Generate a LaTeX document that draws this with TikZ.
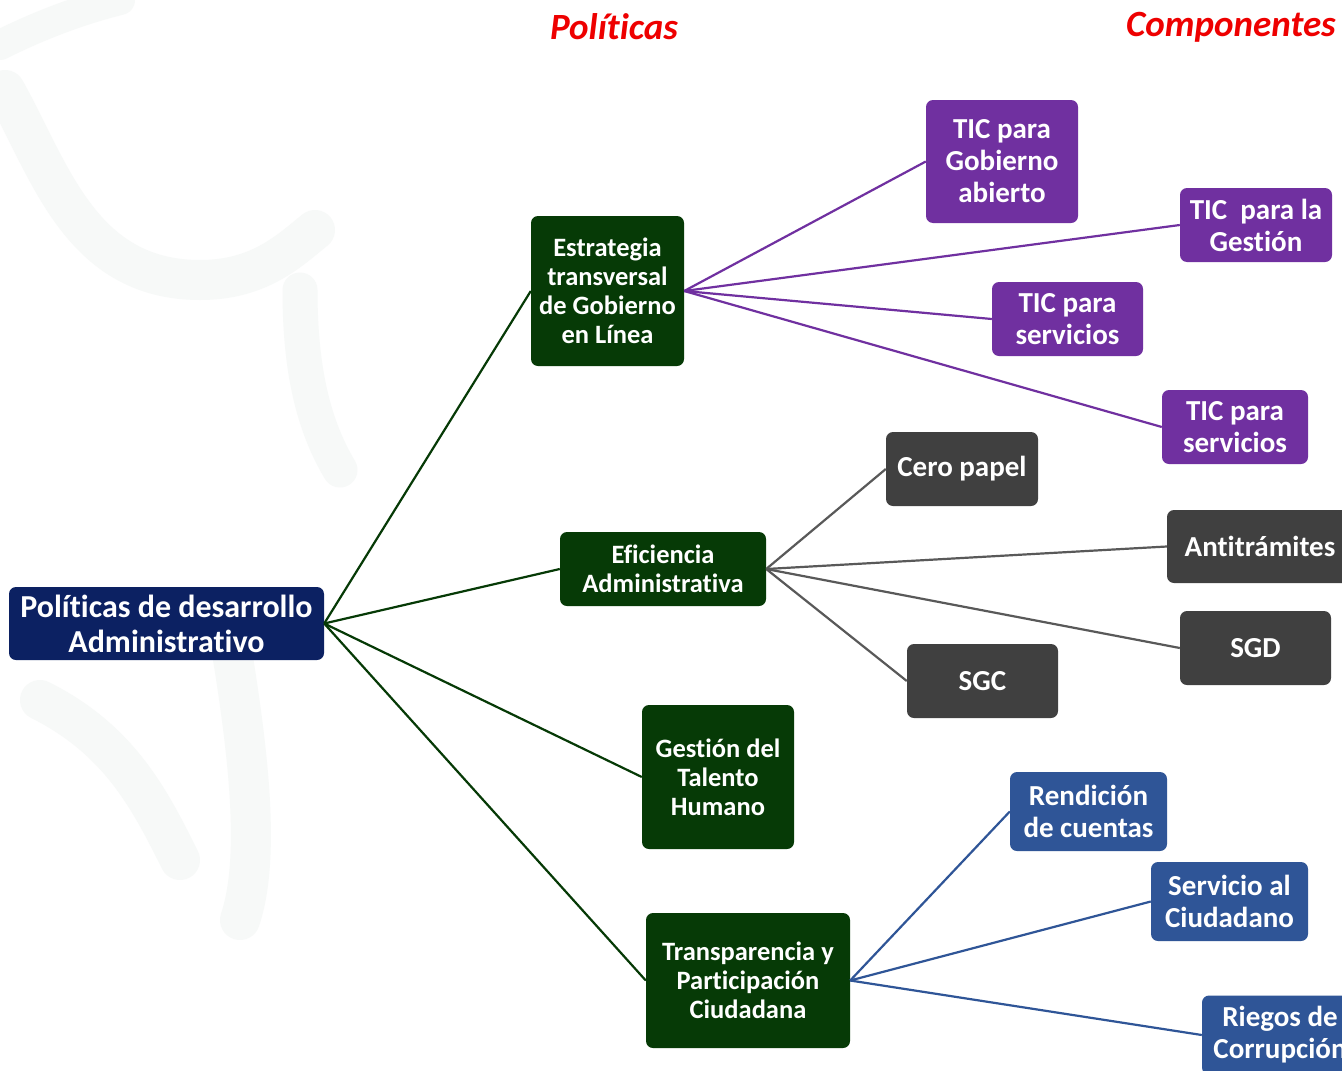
\documentclass[tikz,border=0pt]{standalone}
\usepackage{fontspec}
\setmainfont{Carlito}[Ligatures=NoCommon]
\definecolor{navy}{HTML}{0C2162}
\definecolor{dgreen}{HTML}{063A06}
\definecolor{purp}{HTML}{7030A0}
\definecolor{dgray}{HTML}{404040}
\definecolor{lgray}{HTML}{595959}
\definecolor{bblue}{HTML}{2F5597}
\definecolor{swirl}{HTML}{F7F9F8}
\definecolor{hred}{HTML}{EE0000}
\begin{document}
\begin{tikzpicture}[x=1pt,y=-1pt,
  box/.style={rounded corners=7, text=white, align=center, inner sep=0pt, font=\bfseries},
  rootbox/.style={box, fill=navy, font=\bfseries\fontsize{32}{35}\selectfont},
  polbox/.style={box, fill=dgreen, font=\bfseries\fontsize{26.5}{29}\selectfont},
  ticbox/.style={box, fill=purp, font=\bfseries\fontsize{29}{32}\selectfont},
  effbox/.style={box, fill=dgray, font=\bfseries\fontsize{29}{32}\selectfont},
  trbox/.style={box, fill=bblue, font=\bfseries\fontsize{29}{32}\selectfont},
  head/.style={text=hred, font=\bfseries\itshape\fontsize{37}{40}\selectfont, inner sep=0pt},
  gline/.style={draw=dgreen, line width=2.2pt},
  pline/.style={draw=purp, line width=2.2pt},
  kline/.style={draw=lgray, line width=2.2pt},
  bline/.style={draw=bblue, line width=2.2pt}]
\useasboundingbox (0,0) rectangle (1342,1071);
\clip (0,0) rectangle (1342,1071);
\fill[white] (0,0) rectangle (1342,1071);
% faint background swirls
\begin{scope}[draw=swirl, line cap=round]
\draw[line width=30] (0,45) .. controls (40,25) and (80,10) .. (120,0);
\draw[line width=40] (5,90) .. controls (50,170) and (80,280) .. (200,280) .. controls (260,280) and (290,250) .. (315,230);
\draw[line width=35] (300,290) .. controls (300,360) and (310,420) .. (340,470);
\draw[line width=40] (40,700) .. controls (120,740) and (150,800) .. (180,860);
\draw[line width=40] (230,640) .. controls (250,760) and (260,860) .. (240,920);
\end{scope}
% headers
\node[head] (hpol) at (614,27) {Políticas};
\node[head, anchor=east] (hcomp) at (1336,27) {Componentes};
% nodes
\node[rootbox, minimum width=315, minimum height=73] (root) at (166.5,623.5) {Políticas de desarrollo\\Administrativo};
\node[polbox, minimum width=153, minimum height=150] (estr) at (607.5,291) {Estrategia\\transversal\\de Gobierno\\en Línea};
\node[polbox, minimum width=206, minimum height=74] (efic) at (663,569) {Eficiencia\\Administrativa};
\node[polbox, minimum width=152, minimum height=144] (gest) at (718,777) {Gestión del\\Talento\\Humano};
\node[polbox, minimum width=204, minimum height=135] (trans) at (748,980.5) {Transparencia y\\Participación\\Ciudadana};
\node[ticbox, minimum width=152, minimum height=123] (tga) at (1002,161.5) {TIC para\\Gobierno\\abierto};
\node[ticbox, minimum width=152, minimum height=74] (tgest) at (1256,225) {TIC \ para la\\Gestión};
\node[ticbox, minimum width=151, minimum height=74] (ts1) at (1067.5,319) {TIC para\\servicios};
\node[ticbox, minimum width=146, minimum height=74] (ts2) at (1235,427) {TIC para\\servicios};
\node[effbox, minimum width=152, minimum height=74] (cero) at (962,469) {Cero papel};
\node[effbox, minimum width=186, minimum height=73] (anti) at (1260,546.5) {Antitrámites};
\node[effbox, minimum width=151, minimum height=74] (sgd) at (1255.5,648) {SGD};
\node[effbox, minimum width=151, minimum height=74] (sgc) at (982.5,681) {SGC};
\node[trbox, minimum width=157, minimum height=79] (rend) at (1088.5,811.5) {Rendición\\de cuentas};
\node[trbox, minimum width=157, minimum height=79] (serv) at (1229.5,901.5) {Servicio al\\Ciudadano};
\node[trbox, minimum width=156, minimum height=79] (rieg) at (1280,1035) {Riegos de\\Corrupción};
% connectors
\draw[gline] (root.east) -- (estr.west);
\draw[gline] (root.east) -- (efic.west);
\draw[gline] (root.east) -- (gest.west);
\draw[gline] (root.east) -- (trans.west);
\draw[pline] (estr.east) -- (tga.west);
\draw[pline] (estr.east) -- (tgest.west);
\draw[pline] (estr.east) -- (ts1.west);
\draw[pline] (estr.east) -- (ts2.west);
\draw[kline] (efic.east) -- (cero.west);
\draw[kline] (efic.east) -- (anti.west);
\draw[kline] (efic.east) -- (sgd.west);
\draw[kline] (efic.east) -- (sgc.west);
\draw[bline] (trans.east) -- (rend.west);
\draw[bline] (trans.east) -- (serv.west);
\draw[bline] (trans.east) -- (rieg.west);
\end{tikzpicture}
\end{document}
